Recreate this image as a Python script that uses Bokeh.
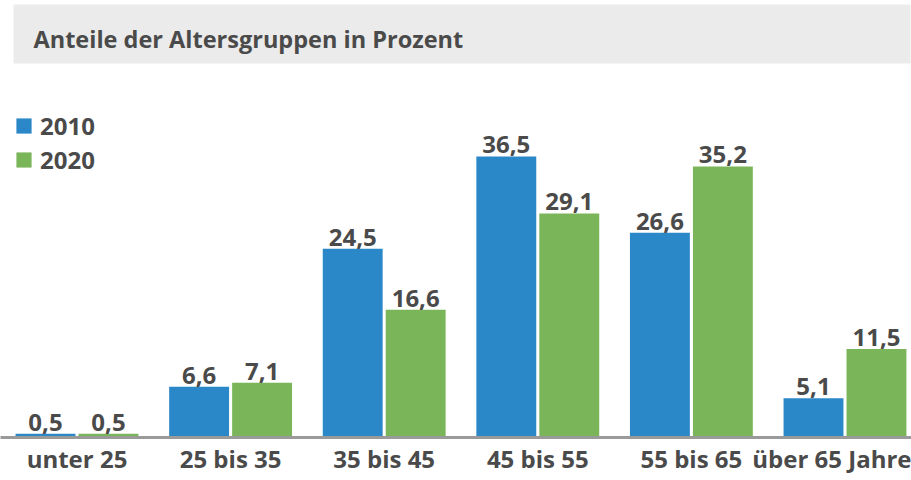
from bokeh.plotting import figure
from bokeh.models import (ColumnDataSource, Range1d, FixedTicker, BoxAnnotation, Label,
                          Legend, LegendItem)
from bokeh.transform import dodge
from bokeh.core.properties import value
from bokeh.embed import file_html
from bokeh.resources import INLINE

categories = ["unter 25", "25 bis 35", "35 bis 45", "45 bis 55", "55 bis 65", "über 65 Jahre"]
values_2010 = [0.5, 6.6, 24.5, 36.5, 26.6, 5.1]
values_2020 = [0.5, 7.1, 16.6, 29.1, 35.2, 11.5]
series_names = ["2010", "2020"]
title_text = "Anteile der Altersgruppen in Prozent"

BLUE = "#2a88c8"
GREEN = "#7ab659"
TEXT = "#4a4a4a"
FONT = "Open Sans"

idx = list(range(len(categories)))
src = ColumnDataSource(dict(
    x=idx,
    v2010=values_2010,
    v2020=values_2020,
    l2010=[f"{v:.1f}".replace(".", ",") for v in values_2010],
    l2020=[f"{v:.1f}".replace(".", ",") for v in values_2020],
))

p = figure(width=911, height=480, output_backend="svg", toolbar_location=None,
           x_range=Range1d(-0.498, 5.433), y_range=Range1d(0, 56.75),
           min_border_left=0, min_border_right=0, min_border_top=0, min_border_bottom=43)
p.outline_line_color = None
p.grid.grid_line_color = None
p.yaxis.visible = False
p.background_fill_color = "white"
p.border_fill_color = "white"

# title bar
p.add_layout(BoxAnnotation(left=13, left_units="screen", right=910, right_units="screen",
                           bottom=374, bottom_units="screen", top=433, top_units="screen",
                           fill_color="#ebebeb", fill_alpha=1.0, line_color=None,
                           level="underlay"))
p.add_layout(Label(x=33, y=399, x_units="screen", y_units="screen", text=title_text,
                   text_font=FONT, text_font_style="bold", text_font_size="23.5px",
                   text_color=TEXT, text_baseline="middle"))

off = 0.205
bw = 0.39
r1 = p.vbar(x=dodge("x", -off, range=p.x_range), top="v2010", width=bw, source=src,
            fill_color=BLUE, line_color=None)
r2 = p.vbar(x=dodge("x", off, range=p.x_range), top="v2020", width=bw, source=src,
            fill_color=GREEN, line_color=None)

for col, lab, o in (("v2010", "l2010", -off), ("v2020", "l2020", off)):
    p.text(x=dodge("x", o, range=p.x_range), y=col, text=lab, source=src,
           text_align="center", text_baseline="bottom", y_offset=-3,
           text_font=value(FONT), text_font_style="bold", text_font_size="24px",
           text_color=TEXT)

ax = p.xaxis[0]
ax.ticker = FixedTicker(ticks=idx)
ax.major_label_overrides = {i: c for i, c in zip(idx, categories)}
ax.major_tick_line_color = None
ax.minor_tick_line_color = None
ax.major_tick_out = 0
ax.major_tick_in = 0
ax.minor_tick_out = 0
ax.minor_tick_in = 0
ax.axis_line_color = "#9a9a9a"
ax.axis_line_width = 3
ax.major_label_standoff = 4
ax.major_label_text_font = FONT
ax.major_label_text_font_style = "bold"
ax.major_label_text_font_size = "24px"
ax.major_label_text_color = TEXT

legend = Legend(items=[LegendItem(label=series_names[0], renderers=[r1]),
                       LegendItem(label=series_names[1], renderers=[r2])],
                location=(14, 261), orientation="vertical",
                glyph_width=19, glyph_height=19, spacing=1, padding=0, margin=0,
                label_standoff=7, label_text_font=FONT, label_text_font_style="bold",
                label_text_font_size="24px", label_text_color=TEXT,
                border_line_color=None, background_fill_alpha=0)
p.add_layout(legend)

open("out.html", "w").write(file_html(p, INLINE))
